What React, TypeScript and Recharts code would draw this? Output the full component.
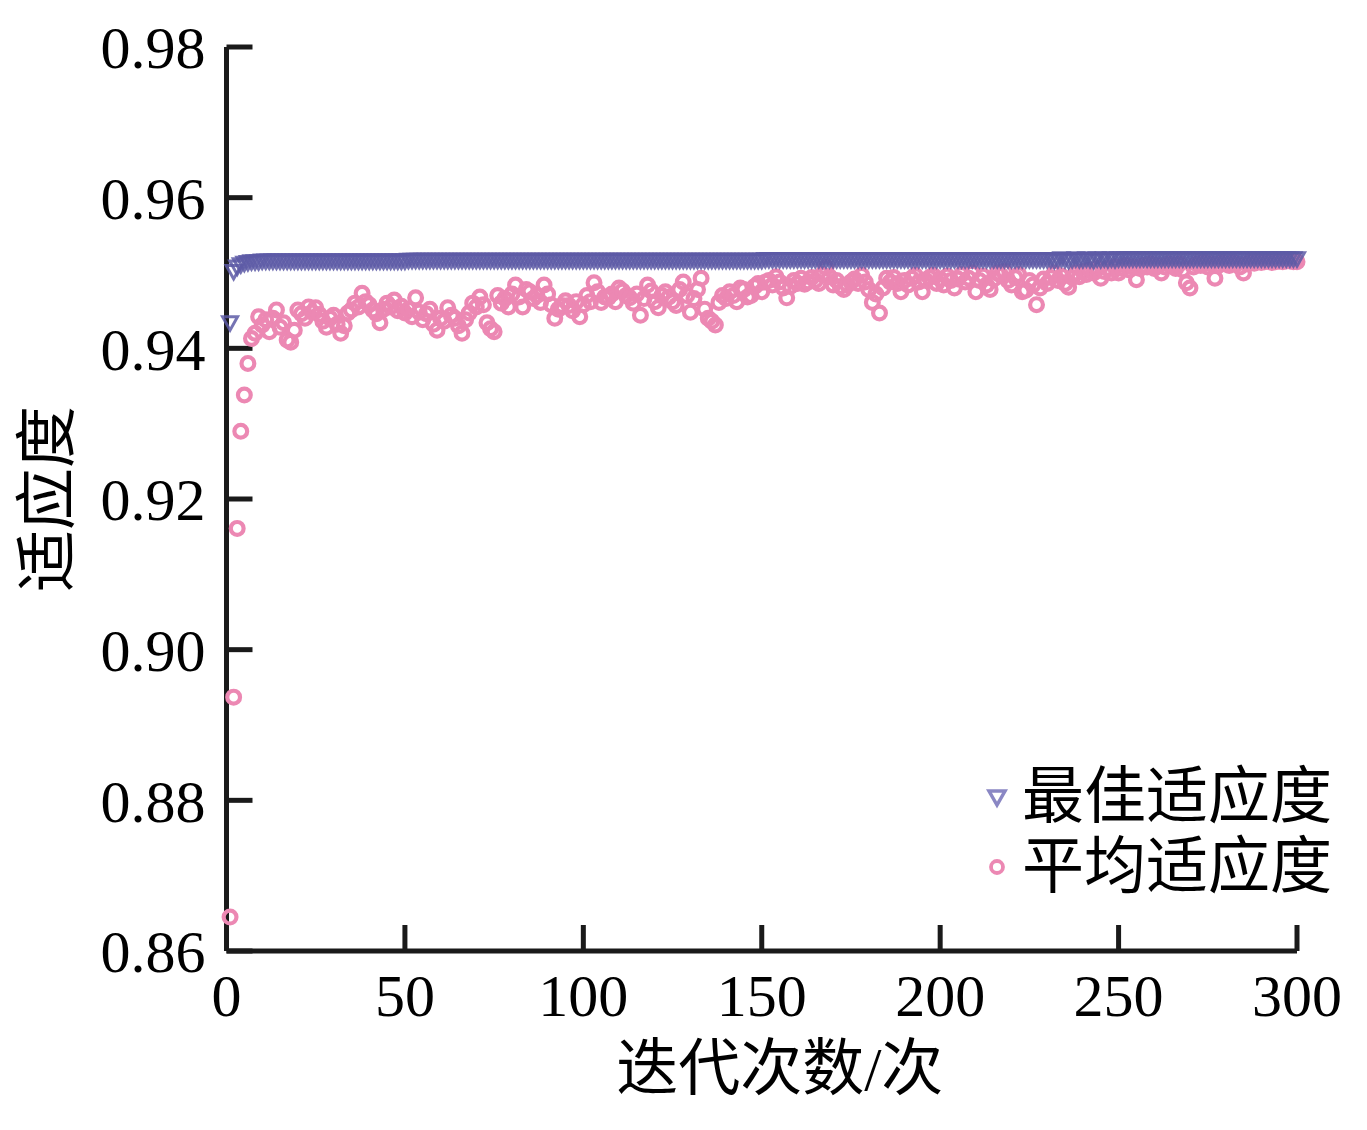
import { ScatterChart, Scatter, XAxis, YAxis } from "recharts";

// 平均适应度, iterations 1..300
const avgFitness = [
  0.8645, 0.8937, 0.9161, 0.9290, 0.9338, 0.9380, 0.9413, 0.9420, 0.9442, 0.9431,
  0.9438, 0.9422, 0.9440, 0.9451, 0.9428, 0.9434, 0.9411, 0.9408, 0.9424, 0.9451,
  0.9446, 0.9440, 0.9455, 0.9448, 0.9454, 0.9445, 0.9436, 0.9428, 0.9440, 0.9444,
  0.9432, 0.9420, 0.9430, 0.9447, 0.9451, 0.9460, 0.9455, 0.9473, 0.9462, 0.9458,
  0.9451, 0.9446, 0.9434, 0.9452, 0.9460, 0.9455, 0.9464, 0.9450, 0.9456, 0.9447,
  0.9452, 0.9442, 0.9467, 0.9448, 0.9438, 0.9446, 0.9452, 0.9432, 0.9424, 0.9440,
  0.9436, 0.9454, 0.9444, 0.9440, 0.9430, 0.9420, 0.9438, 0.9447, 0.9460, 0.9455,
  0.9468, 0.9458, 0.9434, 0.9426, 0.9422, 0.9470, 0.9460, 0.9466, 0.9455, 0.9472,
  0.9484, 0.9468, 0.9455, 0.9478, 0.9475, 0.9466, 0.9470, 0.9461, 0.9484, 0.9472,
  0.9458, 0.9440, 0.9452, 0.9457, 0.9463, 0.9457, 0.9450, 0.9462, 0.9442, 0.9458,
  0.9470, 0.9462, 0.9487, 0.9475, 0.9461, 0.9468, 0.9467, 0.9472, 0.9462, 0.9480,
  0.9476, 0.9470, 0.9467, 0.9460, 0.9472, 0.9444, 0.9466, 0.9484, 0.9476, 0.9462,
  0.9454, 0.9470, 0.9475, 0.9468, 0.9462, 0.9457, 0.9478, 0.9488, 0.9470, 0.9448,
  0.9466, 0.9478, 0.9493, 0.9452, 0.9440, 0.9436, 0.9431, 0.9461, 0.9470, 0.9466,
  0.9475, 0.9470, 0.9462, 0.9480, 0.9478, 0.9468, 0.9470, 0.9482, 0.9486, 0.9475,
  0.9488, 0.9490, 0.9484, 0.9495, 0.9488, 0.9480, 0.9467, 0.9482, 0.9490, 0.9486,
  0.9493, 0.9485, 0.9488, 0.9494, 0.9490, 0.9486, 0.9498, 0.9507, 0.9495, 0.9484,
  0.9490, 0.9482, 0.9478, 0.9484, 0.9488, 0.9492, 0.9486, 0.9497, 0.9488, 0.9478,
  0.9461, 0.9472, 0.9447, 0.9480, 0.9493, 0.9488, 0.9494, 0.9486, 0.9475, 0.9490,
  0.9484, 0.9493, 0.9497, 0.9488, 0.9475, 0.9490, 0.9494, 0.9497, 0.9486, 0.9492,
  0.9484, 0.9496, 0.9490, 0.9480, 0.9492, 0.9498, 0.9488, 0.9493, 0.9500, 0.9475,
  0.9490, 0.9496, 0.9484, 0.9478, 0.9492, 0.9500, 0.9497, 0.9502, 0.9490, 0.9484,
  0.9494, 0.9498, 0.9475, 0.9477, 0.9490, 0.9484, 0.9458, 0.9480, 0.9492, 0.9486,
  0.9494, 0.9500, 0.9490, 0.9496, 0.9486, 0.9481, 0.9494, 0.9500, 0.9495, 0.9502,
  0.9498, 0.9504, 0.9500, 0.9506, 0.9493, 0.9502, 0.9506, 0.9500, 0.9508, 0.9500,
  0.9506, 0.9510, 0.9504, 0.9508, 0.9491, 0.9506, 0.9510, 0.9508, 0.9512, 0.9506,
  0.9510, 0.9500, 0.9508, 0.9512, 0.9510, 0.9506, 0.9512, 0.9504, 0.9487, 0.9480,
  0.9508, 0.9512, 0.9510, 0.9514, 0.9508, 0.9512, 0.9493, 0.9510, 0.9514, 0.9512,
  0.9510, 0.9514, 0.9512, 0.9508, 0.9500, 0.9512, 0.9514, 0.9513, 0.9515, 0.9514,
  0.9515, 0.9516, 0.9514, 0.9515, 0.9516, 0.9515, 0.9516, 0.9516, 0.9515, 0.9515,
];

// 最佳适应度, iterations 1..300
const bestFitness = [
  0.9434, 0.9502, 0.9508, 0.9511, 0.9513, 0.9514, 0.9515, 0.9515, 0.9515, 0.9516,
  0.9516, 0.9516, 0.9516, 0.9516, 0.9516, 0.9516, 0.9516, 0.9516, 0.9516, 0.9516,
  0.9516, 0.9516, 0.9516, 0.9516, 0.9516, 0.9516, 0.9516, 0.9516, 0.9516, 0.9516,
  0.9516, 0.9516, 0.9516, 0.9516, 0.9516, 0.9516, 0.9516, 0.9516, 0.9516, 0.9516,
  0.9516, 0.9516, 0.9516, 0.9516, 0.9516, 0.9516, 0.9516, 0.9516, 0.9516, 0.9516,
  0.9517, 0.9517, 0.9517, 0.9517, 0.9517, 0.9517, 0.9517, 0.9517, 0.9517, 0.9517,
  0.9517, 0.9517, 0.9517, 0.9517, 0.9517, 0.9517, 0.9517, 0.9517, 0.9517, 0.9517,
  0.9517, 0.9517, 0.9517, 0.9517, 0.9517, 0.9517, 0.9517, 0.9517, 0.9517, 0.9517,
  0.9517, 0.9517, 0.9517, 0.9517, 0.9517, 0.9517, 0.9517, 0.9517, 0.9517, 0.9517,
  0.9517, 0.9517, 0.9517, 0.9517, 0.9517, 0.9517, 0.9517, 0.9517, 0.9517, 0.9517,
  0.9517, 0.9517, 0.9517, 0.9517, 0.9517, 0.9517, 0.9517, 0.9517, 0.9517, 0.9517,
  0.9517, 0.9517, 0.9517, 0.9517, 0.9517, 0.9517, 0.9517, 0.9517, 0.9517, 0.9517,
  0.9517, 0.9517, 0.9517, 0.9517, 0.9517, 0.9517, 0.9517, 0.9517, 0.9517, 0.9517,
  0.9517, 0.9517, 0.9517, 0.9517, 0.9517, 0.9517, 0.9517, 0.9517, 0.9517, 0.9517,
  0.9517, 0.9517, 0.9517, 0.9517, 0.9517, 0.9517, 0.9517, 0.9517, 0.9517, 0.9517,
  0.9518, 0.9518, 0.9518, 0.9518, 0.9518, 0.9518, 0.9518, 0.9518, 0.9518, 0.9518,
  0.9518, 0.9518, 0.9518, 0.9518, 0.9518, 0.9518, 0.9518, 0.9518, 0.9518, 0.9518,
  0.9518, 0.9518, 0.9518, 0.9518, 0.9518, 0.9518, 0.9518, 0.9518, 0.9518, 0.9518,
  0.9518, 0.9518, 0.9518, 0.9518, 0.9518, 0.9518, 0.9518, 0.9518, 0.9518, 0.9518,
  0.9518, 0.9518, 0.9518, 0.9518, 0.9518, 0.9518, 0.9518, 0.9518, 0.9518, 0.9518,
  0.9518, 0.9518, 0.9518, 0.9518, 0.9518, 0.9518, 0.9518, 0.9518, 0.9518, 0.9518,
  0.9518, 0.9518, 0.9518, 0.9518, 0.9518, 0.9518, 0.9518, 0.9518, 0.9518, 0.9518,
  0.9518, 0.9518, 0.9518, 0.9518, 0.9518, 0.9518, 0.9518, 0.9518, 0.9518, 0.9518,
  0.9518, 0.9517, 0.9518, 0.9519, 0.9518, 0.9517, 0.9518, 0.9519, 0.9518, 0.9518,
  0.9519, 0.9518, 0.9517, 0.9519, 0.9518, 0.9519, 0.9518, 0.9519, 0.9518, 0.9519,
  0.9519, 0.9519, 0.9519, 0.9519, 0.9519, 0.9519, 0.9519, 0.9519, 0.9519, 0.9519,
  0.9519, 0.9519, 0.9519, 0.9519, 0.9519, 0.9519, 0.9519, 0.9519, 0.9519, 0.9519,
  0.9519, 0.9519, 0.9519, 0.9519, 0.9519, 0.9519, 0.9519, 0.9519, 0.9519, 0.9519,
  0.9519, 0.9519, 0.9519, 0.9519, 0.9519, 0.9519, 0.9519, 0.9519, 0.9519, 0.9519,
  0.9519, 0.9519, 0.9519, 0.9519, 0.9519, 0.9519, 0.9519, 0.9519, 0.9519, 0.9519,
];

const xTicks = [0, 50, 100, 150, 200, 250, 300];
const yTicks = [0.86, 0.88, 0.9, 0.92, 0.94, 0.96, 0.98];

const avgData = avgFitness.map((v, i) => ({ iter: i + 1, value: v }));
const bestData = bestFitness.map((v, i) => ({ iter: i + 1, value: v }));

const BLUE = "#5d5aa6";
const PINK = "#ec88b3";
const AXIS = "#1a1a1a";
const SERIF = "'Liberation Serif', 'Times New Roman', 'Noto Sans CJK SC', serif";
const TRI = 7.5;

const Triangle = ({ cx, cy }: any) => (
  <path
    d={`M${cx - TRI},${cy - TRI * 0.8} L${cx + TRI},${cy - TRI * 0.8} L${cx},${cy + TRI} Z`}
    fill="none"
    stroke={BLUE}
    strokeWidth={3}
    strokeOpacity={0.85}
  />
);

const Ring = ({ cx, cy }: any) => (
  <circle cx={cx} cy={cy} r={6.4} fill="none" stroke={PINK} strokeWidth={4.2} />
);

const axisTick = { fill: "#000", fontSize: 60, fontFamily: SERIF };

export default function App() {
  return (
    <div style={{ position: "relative", margin: -8, width: 1367, height: 1130, background: "#fff" }}>
      <ScatterChart width={1367} height={1130} margin={{ top: 47, right: 70, bottom: 0, left: 0 }}>
        <XAxis
          type="number"
          dataKey="iter"
          domain={[0, 300]}
          ticks={xTicks}
          height={179}
          axisLine={{ stroke: AXIS, strokeWidth: 5 }}
          tickLine={{ stroke: AXIS, strokeWidth: 5 }}
          tickSize={-26}
          tickMargin={48}
          tick={axisTick}
          label={{
            value: "迭代次数/次",
            position: "insideBottom",
            offset: 40,
            dx: 18,
            style: { fontSize: 62, fontFamily: SERIF, fill: "#000" },
          }}
        />
        <YAxis
          type="number"
          dataKey="value"
          domain={[0.86, 0.98]}
          ticks={yTicks}
          width={226.5}
          allowDataOverflow
          axisLine={{ stroke: AXIS, strokeWidth: 5 }}
          tickLine={{ stroke: AXIS, strokeWidth: 5 }}
          tickSize={-26}
          tickMargin={47}
          tick={axisTick}
          tickFormatter={(v: number) => v.toFixed(2)}
          label={{
            value: "适应度",
            angle: -90,
            position: "insideLeft",
            offset: 47,
            style: { fontSize: 62, fontFamily: SERIF, fill: "#000", textAnchor: "middle" },
          }}
        />
        <Scatter name="平均适应度" data={avgData} shape={<Ring />} isAnimationActive={false} />
        <Scatter name="最佳适应度" data={bestData} shape={<Triangle />} isAnimationActive={false} />
      </ScatterChart>

      {/* Legend */}
      <div style={{ position: "absolute", left: 984, top: 762, fontFamily: SERIF, fontSize: 62, lineHeight: "70px", color: "#000" }}>
        <div style={{ display: "flex", alignItems: "center" }}>
          <svg width={26} height={26} style={{ marginRight: 12 }}>
            <path d="M5,7 L21,7 L13,21 Z" fill="none" stroke="#8a87c4" strokeWidth={3.5} />
          </svg>
          <span>最佳适应度</span>
        </div>
        <div style={{ display: "flex", alignItems: "center" }}>
          <svg width={26} height={26} style={{ marginRight: 12 }}>
            <circle cx={13} cy={13} r={6} fill="none" stroke={PINK} strokeWidth={3.8} />
          </svg>
          <span>平均适应度</span>
        </div>
      </div>
    </div>
  );
}
